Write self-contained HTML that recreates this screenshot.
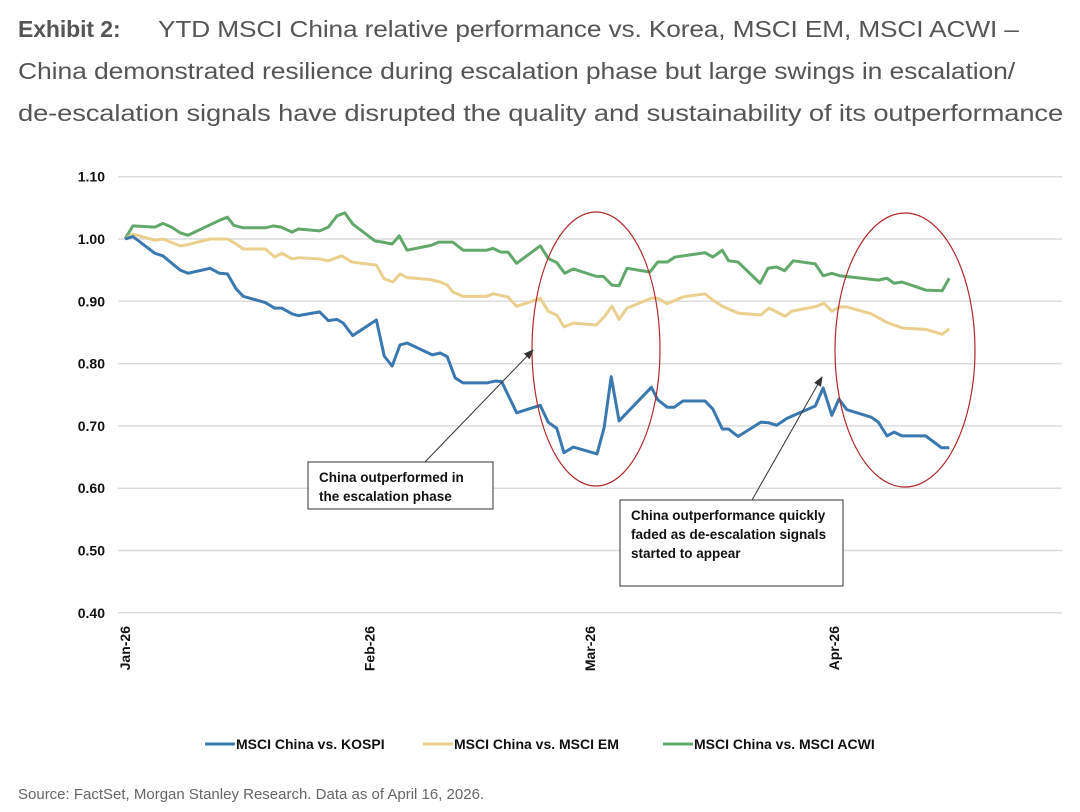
<!DOCTYPE html>
<html><head><meta charset="utf-8">
<style>
body{margin:0;background:#fff;width:1080px;height:812px;overflow:hidden;font-family:"Liberation Sans",sans-serif;}
.t{position:absolute;left:18px;font-size:23px;color:#555;white-space:nowrap;letter-spacing:-0.1px;transform-origin:0 0}
</style></head><body>
<div class="t" style="top:16px"><b style="color:#555">Exhibit 2:</b></div>
<div class="t" style="top:16px;left:158px;transform:scaleX(1.14)">YTD MSCI China relative performance vs. Korea, MSCI EM, MSCI ACWI –</div>
<div class="t" style="top:58px;transform:scaleX(1.153)">China demonstrated resilience during escalation phase but large swings in escalation/</div>
<div class="t" style="top:100px;transform:scaleX(1.188)">de-escalation signals have disrupted the quality and sustainability of its outperformance</div>
<svg id="chart" width="1080" height="812" style="position:absolute;left:0;top:0" font-family="'Liberation Sans Narrow','Liberation Sans',sans-serif"></svg>
<div style="position:absolute;left:18px;top:786px;font-size:15px;color:#666">Source: FactSet, Morgan Stanley Research. Data as of April 16, 2026.</div>
<script>
const yTicks=[1.10,1.00,0.90,0.80,0.70,0.60,0.50,0.40];
const monthLabels=["Jan-26","Feb-26","Mar-26","Apr-26"];
const monthDays=[0,31,59,90];
const kospiDays=[0,1,3.8,4.8,7,8,10.8,12,13,14.1,15,17.8,19,19.9,21.2,22,24.7,25.8,26.9,27.7,28.9,31.9,32.9,33.9,34.9,35.8,39,40,40.9,41.9,42.9,45.9,47,47.8,49.7,52.7,53.7,54.8,55.7,56.9,59.9,60.8,61.7,62.7,66.8,67.6,68.8,69.7,70.8,73.6,74.6,75.8,76.6,77.8,80.7,81.7,82.7,84,87.6,88.6,89.7,90.6,91.6,94.7,95.6,96.7,97.6,98.6,101.6,103.6,104.6];
const kospiVals=[1.00,1.004,0.977,0.973,0.950,0.945,0.953,0.945,0.944,0.920,0.908,0.898,0.889,0.889,0.880,0.877,0.883,0.869,0.871,0.865,0.845,0.870,0.812,0.796,0.830,0.833,0.814,0.817,0.811,0.777,0.769,0.769,0.772,0.771,0.721,0.733,0.706,0.696,0.657,0.666,0.655,0.697,0.779,0.708,0.762,0.742,0.730,0.730,0.740,0.740,0.727,0.695,0.695,0.683,0.706,0.705,0.701,0.712,0.732,0.761,0.717,0.743,0.726,0.714,0.706,0.684,0.690,0.684,0.684,0.665,0.665];
const emDays=[0,1,3.8,4.8,7,8,10.8,13,14.1,15,17.8,19,19.9,21.2,22,24.7,25.8,27.5,28.8,31.9,32.9,34,34.9,35.8,38.7,40,40.9,41.6,42.9,45.9,46.7,48.6,49.7,51.4,52.7,53.7,54.8,55.7,56.9,59.8,60.8,61.8,62.7,63.7,66.8,67.6,68.8,70.8,73.6,74.6,75.8,77.8,80.7,81.7,83.8,84.6,87.8,88.7,89.7,90.7,91.6,94.7,96.7,98.7,101.6,103.7,104.6];
const emVals=[1.00,1.008,0.998,1.000,0.989,0.991,1.000,1.000,0.992,0.984,0.984,0.971,0.977,0.968,0.970,0.968,0.965,0.973,0.963,0.958,0.936,0.931,0.944,0.938,0.935,0.931,0.926,0.915,0.908,0.908,0.912,0.907,0.892,0.899,0.905,0.884,0.878,0.859,0.865,0.862,0.875,0.892,0.871,0.889,0.905,0.905,0.896,0.907,0.912,0.902,0.892,0.881,0.878,0.889,0.876,0.884,0.892,0.897,0.884,0.891,0.891,0.880,0.866,0.857,0.855,0.847,0.856];
const acwiDays=[0,1,3.8,4.8,5.9,7,8,12,13,13.8,15,17.8,18.8,19.8,21.2,22,24.7,25.8,26.9,27.9,28.9,31.7,32.7,33.9,34.8,35.8,38.9,39.8,41.6,42.9,45.9,46.7,47.7,48.6,49.7,52.7,53.7,54.8,55.8,56.9,59.8,60.7,61.8,62.7,63.7,66.6,67.6,68.8,69.8,73.6,74.6,75.8,76.6,77.8,80.6,81.6,82.7,83.7,84.8,87.6,88.6,89.7,90.7,95.6,96.7,97.6,98.6,101.6,103.7,104.6];
const acwiVals=[1.00,1.021,1.019,1.025,1.019,1.010,1.006,1.030,1.035,1.022,1.018,1.018,1.021,1.019,1.011,1.016,1.013,1.019,1.037,1.042,1.024,0.997,0.995,0.992,1.005,0.982,0.990,0.995,0.995,0.982,0.982,0.985,0.979,0.979,0.961,0.989,0.969,0.962,0.945,0.952,0.940,0.940,0.926,0.925,0.953,0.947,0.963,0.963,0.971,0.978,0.971,0.982,0.965,0.963,0.929,0.953,0.955,0.949,0.965,0.960,0.941,0.945,0.941,0.934,0.937,0.929,0.931,0.918,0.917,0.937];
const seriesNames=["MSCI China vs. KOSPI","MSCI China vs. MSCI EM","MSCI China vs. MSCI ACWI"];

const NS="http://www.w3.org/2000/svg";
const svg=document.getElementById('chart');
const X=d=>125+d*7.88;
const Y=v=>239-(v-1.0)*623;
function mk(tag,attrs,parent){const e=document.createElementNS(NS,tag);for(const k in attrs)e.setAttribute(k,attrs[k]);(parent||svg).appendChild(e);return e;}

yTicks.forEach(v=>{
  const g=mk('line',{x1:118,x2:1062,y1:Y(v),y2:Y(v),stroke:'#dcdcdc','stroke-width':1.5});
  
  
  const t=mk('text',{x:105,y:Y(v)+5,'text-anchor':'end','font-size':14,'font-weight':'bold',fill:'#111'});
  t.textContent=v.toFixed(2);
  
  
});
monthLabels.forEach((m,i)=>{
  const x=X(monthDays[i]);
  const t=mk('text',{x:0,y:0,transform:`translate(${x+5},626) rotate(-90)`,'text-anchor':'end','font-size':14,'font-weight':'bold',fill:'#111'});
  t.textContent=m;
  
  
});
const colors=['#3a78b0','#ead08e','#62a86c'];
const sets=[[acwiDays,acwiVals,2],[emDays,emVals,1],[kospiDays,kospiVals,0]];
sets.forEach(([d,v,ci])=>{
  const p=mk('polyline',{points:d.map((dd,i)=>X(dd)+','+Y(v[i])).join(' '),fill:'none',stroke:colors[ci],'stroke-width':3,'stroke-linejoin':'round'});
  
  
});
const e1=mk('ellipse',{cx:596,cy:349,rx:64,ry:137,fill:'none',stroke:'#b02a2a','stroke-width':1.2});


const e2=mk('ellipse',{cx:905,cy:350,rx:70,ry:137,fill:'none',stroke:'#b02a2a','stroke-width':1.2});


const defs=mk('defs',{});
const mkr=mk('marker',{id:'ah',markerWidth:10,markerHeight:8,refX:9,refY:4,orient:'auto',markerUnits:'userSpaceOnUse'},defs);
mk('path',{d:'M0,0 L10,4 L0,8 z',fill:'#333'},mkr);
const a1=mk('line',{x1:425,y1:462,x2:533,y2:350,stroke:'#333','stroke-width':1,'marker-end':'url(#ah)'});


const a2=mk('line',{x1:752,y1:500,x2:822,y2:377,stroke:'#333','stroke-width':1,'marker-end':'url(#ah)'});


function box(x,y,w,h,lines,name){
  const r=mk('rect',{x:x,y:y,width:w,height:h,fill:'#fff',stroke:'#333','stroke-width':1});
  
  
  lines.forEach((l,i)=>{const t=mk('text',{x:x+11,y:y+20+i*19,'font-size':13.5,'font-weight':'bold',fill:'#111','font-family':'Liberation Sans,sans-serif'});t.textContent=l;
    
    });
}
box(308,462,185,47,["China outperformed in","the escalation phase"],'annotation-box-escalation');
box(620,500,223,86,["China outperformance quickly","faded as de-escalation signals","started to appear"],'annotation-box-deescalation');
const lx=[205,423,663];
seriesNames.forEach((n,i)=>{
  const l=mk('line',{x1:lx[i],x2:lx[i]+30,y1:744,y2:744,stroke:colors[i],'stroke-width':3});
  
  
  const t=mk('text',{x:lx[i]+31,y:749,'font-size':14,'font-weight':'bold',fill:'#111'});
  t.textContent=n;
  
  
});
</script>
</body></html>
